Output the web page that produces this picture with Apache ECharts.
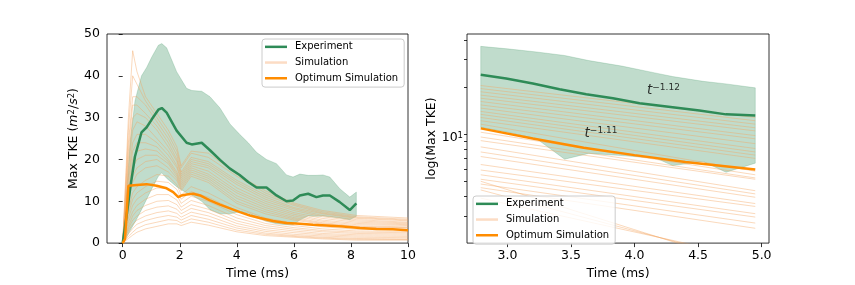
<!DOCTYPE html>
<html>
<head>
<meta charset="utf-8">
<script src="https://cdn.jsdelivr.net/npm/echarts@6/dist/echarts.min.js"></script>
<style>
html,body{margin:0;padding:0;background:#fff;}
#main{width:855px;height:285px;}
</style>
</head>
<body>
<div id="main"></div>
<script>
// ---------- LEFT PANEL DATA (linear) ----------
const expTime = [0, 0.14, 0.26, 0.43, 0.66, 0.84, 1.02, 1.25, 1.37, 1.54, 1.89, 2.24, 2.42, 2.77, 3.06, 3.41, 3.76, 4.1, 4.4, 4.69, 5.04, 5.39, 5.74, 5.97, 6.21, 6.5, 6.79, 7.02, 7.26, 7.61, 7.96, 8.19];
const expMean = [0, 6.7, 13, 20.7, 26.5, 27.7, 29.6, 31.9, 32.3, 31.2, 26.9, 24, 23.6, 24, 22.2, 19.9, 17.8, 16.3, 14.6, 13.3, 13.3, 11.4, 10, 10.2, 11.4, 11.8, 11, 11.4, 11.4, 9.8, 7.9, 9.5];
const expHigh = [0, 12, 24, 34, 40, 42, 44.5, 47.3, 47.7, 46.7, 41, 37, 36.5, 36.3, 35, 32.3, 28.5, 26, 24, 21.7, 20, 19, 16.3, 15.8, 16.5, 16.2, 16.2, 16.3, 15.8, 13, 11, 12.2];
const expLow  = [0, 1.5, 3, 5, 8, 10.5, 13, 16, 16.8, 15.5, 13.5, 12, 11.5, 10, 8, 7, 7, 7.5, 7.2, 6.2, 5.2, 4.6, 4.4, 4.4, 5.5, 6.5, 6.4, 6.5, 6.3, 6.0, 5.6, 6.4];

const optTime = [0, 0.08, 0.2, 0.49, 0.84, 1.19, 1.54, 1.77, 1.95, 2.07, 2.24, 2.47, 2.71, 3.06, 3.41, 3.76, 4.11, 4.46, 4.81, 5.27, 5.74, 6.21, 6.67, 7.14, 7.72, 8.31, 8.89, 9.47, 10];
const optValue = [0, 1, 13.7, 13.9, 14.1, 13.7, 13.1, 12.2, 11.0, 11.4, 11.6, 11.8, 11.4, 10.2, 9.2, 8.3, 7.4, 6.6, 6.0, 5.3, 4.8, 4.6, 4.4, 4.2, 3.95, 3.6, 3.4, 3.3, 3.1];

const simTime = [0, 0.2, 0.35, 0.5, 0.8, 1.2, 1.6, 1.9, 2.05, 2.4, 3.0, 4.0, 5.0, 6.0, 7.0, 8.2, 10];
const simU1  = [0, 30, 46, 41, 35, 31, 27, 23, 18.5, 22, 21.5, 16.5, 12.5, 9.6, 7.8, 6.6, 6.0];
const simU2  = [0, 27, 40, 38, 34, 30, 26, 22, 18, 21.5, 20.5, 16, 12, 9.3, 7.5, 6.3, 5.7];
const simU3  = [0, 24, 35, 35, 33, 29, 25, 21, 17, 20.5, 19.5, 15, 11.5, 9, 7.2, 6.1, 5.5];
const simU4  = [0, 22, 33, 33, 31, 28, 24, 20, 16.5, 20, 19, 14.5, 11, 8.5, 7, 5.9, 5.3];
const simU5  = [0, 20, 30, 31, 30, 27, 23, 19.5, 16, 19.5, 18.5, 14, 10.5, 8.2, 6.6, 5.6, 5.0];
const simU6  = [0, 18, 27, 29, 28, 25, 22, 18.5, 15.5, 19, 18, 13.2, 10, 7.8, 6.3, 5.3, 4.8];
const simU7  = [0, 16, 24, 26, 26, 24, 21, 18, 15, 18.5, 17.2, 12.5, 9.5, 7.3, 5.9, 5.0, 4.6];
const simU8  = [0, 15, 22, 24, 24, 23, 20, 17, 14.5, 18, 16.5, 12, 9, 6.9, 5.5, 4.7, 4.4];
const simU9  = [0, 13, 20, 22, 22.5, 22, 19.5, 16.5, 14, 17.5, 16, 11.3, 8.5, 6.5, 5.2, 4.4, 4.2];
const simU10 = [0, 12, 18, 20, 21, 21, 19, 16, 13.5, 17, 15.5, 10.7, 8, 6.1, 4.9, 4.1, 3.9];
const simU11 = [0, 11, 16, 18, 19.5, 20, 18, 15.5, 13, 16.5, 15, 10, 7.5, 5.8, 4.7, 3.9, 3.7];
const simU12 = [0, 10, 14.5, 16.5, 18, 18.5, 17, 15, 12.5, 16, 14.5, 9.5, 7, 5.5, 4.5, 3.8, 3.6];
const simL1  = [0, 8, 12, 13.5, 15, 16.4, 16, 14, 11.5, 13.5, 12, 8.5, 6, 4.8, 3.9, 3.3, 3.2];
const simL2  = [0, 7, 10.5, 12, 13.5, 14.8, 14.5, 12.8, 10.5, 12.3, 11, 7.6, 5.3, 4.2, 3.4, 2.9, 2.8];
const simL3  = [0, 6, 9, 10.5, 12, 13.2, 13, 11.5, 9.5, 11.2, 10, 6.8, 4.7, 3.7, 3, 2.6, 2.5];
const simL4  = [0, 5, 7.5, 9, 10.5, 11.6, 11.6, 10.3, 8.6, 10.2, 9, 6, 4.2, 3.3, 2.7, 2.3, 2.2];
const simL5  = [0, 4, 6.5, 7.8, 9, 10, 10.2, 9.2, 7.8, 9.2, 8.1, 5.3, 3.7, 2.9, 2.3, 2.0, 1.9];
const simL6  = [0, 3.5, 5.5, 6.5, 7.8, 8.6, 8.9, 8.1, 7, 8.3, 7.3, 4.7, 3.2, 2.5, 2.0, 1.7, 1.6];
const simL7  = [0, 3, 4.5, 5.5, 6.5, 7.3, 7.7, 7.1, 6.2, 7.4, 6.5, 4.1, 2.8, 2.1, 1.7, 1.4, 1.3];
const simL8  = [0, 2.2, 3.5, 4.5, 5.4, 6.1, 6.6, 6.2, 5.5, 6.6, 5.7, 3.6, 2.4, 1.8, 1.4, 1.1, 1.0];
const simL9  = [0, 1.6, 2.6, 3.5, 4.4, 5, 5.6, 5.4, 4.8, 5.8, 5, 3.1, 2.1, 1.6, 1.2, 0.9, 0.85];
const simL10 = [0, 1.1, 1.9, 2.6, 3.4, 4, 4.6, 4.6, 4.2, 5, 4.3, 2.7, 1.8, 1.4, 1.0, 0.7, 0.7];
const simCurves = [simU1, simU2, simU3, simU4, simU5, simU6, simU7, simU8, simU9, simU10, simU11, simU12,
                   simL1, simL2, simL3, simL4, simL5, simL6, simL7, simL8, simL9, simL10];

// ---------- RIGHT PANEL DATA (log) ----------
const logExpTime = [2.79, 2.99, 3.2, 3.41, 3.62, 3.83, 4.04, 4.30, 4.51, 4.72, 4.95];
const logExpMean = [24, 22.7, 21.1, 19.4, 18.0, 17.0, 15.8, 14.9, 14.2, 13.4, 13.2];
const logBandTime = [2.79, 3.0, 3.23, 3.45, 3.64, 3.9, 4.17, 4.30, 4.54, 4.72, 4.95];
const logBandHigh = [36.5, 35.2, 33.6, 31.9, 29.6, 27.3, 24.6, 23.4, 21.8, 21.0, 19.8];
const logBandLow  = [11.06, 10.3, 9.35, 6.92, 7.54, 7.3, 7.02, 6.30, 6.70, 5.71, 6.53];
const logOptTime = [2.79, 3.2, 3.6, 4.0, 4.4, 4.95];
const logOptValue = [10.9, 9.4, 8.2, 7.35, 6.65, 5.94];
const logSimTime = [2.79, 4.95];
const logSimStart = [20.5, 19.6, 18.7, 17.8, 17.0, 16.2, 15.4, 14.7, 14.0, 13.4, 12.8, 12.2, 11.6, 10.3, 9.6, 9.1, 8.3, 7.7, 7.2, 6.4, 5.9, 5.5, 5.15, 4.8, 4.55, 5.0, 4.4, 3.9];
const logSimEnd   = [12.8, 12.2, 11.6, 11.0, 10.5, 9.8, 9.35, 8.7, 8.1, 7.7, 7.35, 7.0, 5.8, 5.5, 5.25, 5.15, 4.35, 4.15, 3.95, 3.6, 3.45, 3.1, 2.95, 2.7, 2.5, 1.4, 1.5, 1.6];

// ---------- tick labels ----------
const leftXTicks = [0, 2, 4, 6, 8, 10];
const rightXTicks = [3.0, 3.5, 4.0, 4.5, 5.0];
const rightYMinorTicks = [3, 4, 5, 6, 7, 8, 9, 10, 20, 30, 40];
const rightYLabels = [10];

// ---------- styles ----------
const FONT = 'DejaVu Sans';
const GREEN = '#2e8b57';
const ORANGE = '#ff8c00';
const SIMC = '#f4a460';
const BAND = 'rgba(46,139,87,0.3)';

function zip(t, v) { return t.map((x, i) => [x, v[i]]); }

function bandSeries(xi, yi, T, lo, hi) {
  return {
    type: 'custom', xAxisIndex: xi, yAxisIndex: yi, silent: true, z: 1,
    data: [[T[0], hi[0]]],
    renderItem: function (params, api) {
      const pts = [];
      for (let i = 0; i < T.length; i++) pts.push(api.coord([T[i], hi[i]]));
      for (let i = T.length - 1; i >= 0; i--) pts.push(api.coord([T[i], lo[i]]));
      return { type: 'polygon', shape: { points: pts }, style: { fill: BAND, stroke: 'rgba(46,139,87,0.25)', lineWidth: 0.8 } };
    }
  };
}

const series = [];
series.push(bandSeries(0, 0, expTime, expLow, expHigh));
series.push(bandSeries(1, 1, logBandTime, logBandLow, logBandHigh));
simCurves.forEach(c => series.push({
  name: 'Simulation', type: 'line', xAxisIndex: 0, yAxisIndex: 0, symbol: 'none', silent: true, z: 2,
  lineStyle: { color: SIMC, width: 1, opacity: 0.42 }, itemStyle: { color: SIMC, opacity: 0.42 }, data: zip(simTime, c)
}));
logSimStart.forEach((s, i) => series.push({
  name: 'Simulation', type: 'line', xAxisIndex: 1, yAxisIndex: 1, symbol: 'none', silent: true, z: 2,
  lineStyle: { color: SIMC, width: 1, opacity: 0.42 }, itemStyle: { color: SIMC, opacity: 0.42 }, data: zip(logSimTime, [s, logSimEnd[i]])
}));
series.push({ name: 'Experiment', type: 'line', xAxisIndex: 0, yAxisIndex: 0, symbol: 'none', z: 3,
  lineStyle: { color: GREEN, width: 2.5 }, itemStyle: { color: GREEN }, data: zip(expTime, expMean) });
series.push({ name: 'Experiment', type: 'line', xAxisIndex: 1, yAxisIndex: 1, symbol: 'none', z: 3,
  lineStyle: { color: GREEN, width: 2.5 }, itemStyle: { color: GREEN }, data: zip(logExpTime, logExpMean) });
series.push({ name: 'Optimum Simulation', type: 'line', xAxisIndex: 0, yAxisIndex: 0, symbol: 'none', z: 4,
  lineStyle: { color: ORANGE, width: 2.5 }, itemStyle: { color: ORANGE }, data: zip(optTime, optValue) });
series.push({ name: 'Optimum Simulation', type: 'line', xAxisIndex: 1, yAxisIndex: 1, symbol: 'none', z: 4,
  lineStyle: { color: ORANGE, width: 2.5 }, itemStyle: { color: ORANGE }, data: zip(logOptTime, logOptValue) });

function annot(pos, exp) {
  return { type: 'scatter', xAxisIndex: 1, yAxisIndex: 1, symbolSize: 0, silent: true, z: 6, data: [pos],
    label: { show: true, position: [0, 0], align: 'left', verticalAlign: 'bottom', formatter: '{t|t}{s|' + exp + '}',
      rich: { t: { fontSize: 13.5, fontStyle: 'italic', fontFamily: FONT, color: '#000', verticalAlign: 'bottom' },
              s: { fontSize: 9, fontFamily: FONT, color: '#000', verticalAlign: 'top' } } } };
}
series.push(annot([4.098, 17.25], '\u22121.12'));
series.push(annot([3.607, 9.18], '\u22121.11'));

const axisFont = { fontFamily: FONT, fontSize: 12.5, color: '#000' };
const tickStyle = { color: '#000', width: 0.8 };

function legendCfg(left, top) {
  return {
    data: [
      { name: 'Experiment', icon: 'rect', itemStyle: { color: GREEN, opacity: 1 } },
      { name: 'Simulation', icon: 'rect', itemStyle: { color: '#fcdcc4', opacity: 1 } },
      { name: 'Optimum Simulation', icon: 'rect', itemStyle: { color: ORANGE, opacity: 1 } }
    ],
    orient: 'vertical', left: left, top: top,
    itemWidth: 22, itemHeight: 2.5, itemGap: 4, padding: [2, 6, 3, 3], selectedMode: false,
    backgroundColor: 'rgba(255,255,255,0.8)', borderColor: '#cccccc', borderWidth: 1, borderRadius: 3,
    textStyle: { fontFamily: FONT, fontSize: 10, color: '#000', padding: [0, 0, 0, 3], lineHeight: 11.7 }
  };
}

const option = {
  animation: false,
  backgroundColor: '#fff',
  textStyle: { fontFamily: FONT },
  grid: [
    { left: 107, top: 34, width: 301, height: 215, show: true, borderColor: '#000', borderWidth: 0.8, backgroundColor: 'rgba(0,0,0,0)' },
    { left: 467, top: 34, width: 302, height: 215, show: true, borderColor: '#000', borderWidth: 0.8, backgroundColor: 'rgba(0,0,0,0)' }
  ],
  legend: [legendCfg(262, 39), legendCfg(473, 196)],
  xAxis: [
    { type: 'value', gridIndex: 0, min: -0.55, max: 10, name: 'Time (ms)', nameLocation: 'middle', nameGap: 19,
      nameTextStyle: axisFont, axisLine: { show: false }, splitLine: { show: false },
      axisTick: { show: true, length: 4, lineStyle: tickStyle, customValues: leftXTicks },
      axisLabel: Object.assign({ customValues: leftXTicks, margin: 6 }, axisFont) },
    { type: 'value', gridIndex: 1, min: 2.682, max: 5.058, name: 'Time (ms)', nameLocation: 'middle', nameGap: 19,
      nameTextStyle: axisFont, axisLine: { show: false }, splitLine: { show: false },
      axisTick: { show: true, length: 4, lineStyle: tickStyle, customValues: rightXTicks },
      axisLabel: Object.assign({ customValues: rightXTicks, margin: 6, formatter: v => Number(v).toFixed(1) }, axisFont) }
  ],
  yAxis: [
    { type: 'value', gridIndex: 0, min: 0, max: 50, interval: 10, name: 'Max TKE ({i|m}{sup|2}/{i|s}{sup|2})', nameLocation: 'middle', nameGap: 21,
      nameTextStyle: Object.assign({ rich: { i: { fontFamily: FONT, fontSize: 12.5, fontStyle: 'italic', color: '#000' }, sup: { fontFamily: FONT, fontSize: 8.5, color: '#000', verticalAlign: 'top' } } }, axisFont),
      axisLine: { show: false }, splitLine: { show: false },
      axisTick: { show: true, length: 4, lineStyle: tickStyle },
      axisLabel: Object.assign({ margin: 7 }, axisFont) },
    { type: 'log', logBase: 10, gridIndex: 1, min: 2.01, max: 43.8, name: 'log(Max TKE)', nameLocation: 'middle', nameGap: 27,
      nameTextStyle: axisFont, axisLine: { show: false }, splitLine: { show: false },
      axisTick: { show: true, length: 3, lineStyle: tickStyle, customValues: rightYMinorTicks },
      axisLabel: Object.assign({ customValues: rightYLabels, margin: 4, padding: [7, 0, 0, 0], formatter: () => '{b|10}{s|1}',
        rich: { b: { fontFamily: FONT, fontSize: 12.5, color: '#000', verticalAlign: 'bottom' }, s: { fontFamily: FONT, fontSize: 8.5, color: '#000', verticalAlign: 'top' } } }, axisFont) }
  ],
  series: series
};

const chart = echarts.init(document.getElementById('main'), null, { renderer: 'canvas' });
chart.setOption(option);
</script>
</body>
</html>
